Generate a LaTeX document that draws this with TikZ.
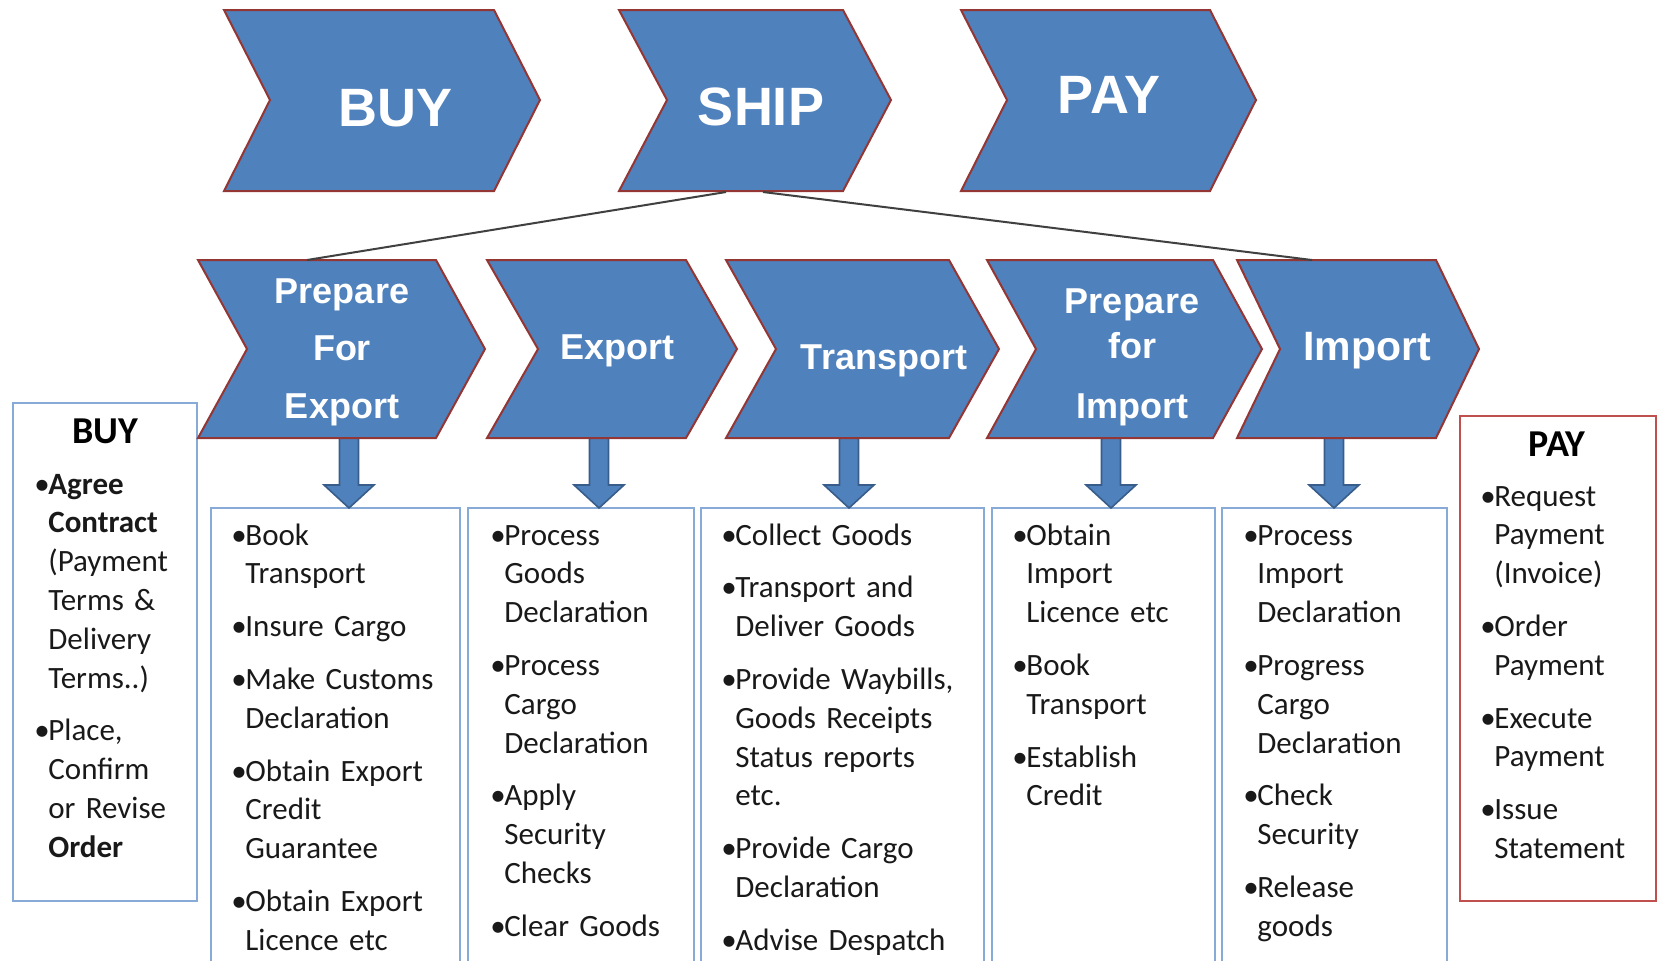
\documentclass[tikz,border=0pt]{standalone}
\usepackage{fontspec}
\setmainfont{Carlito}
\newfontfamily\chevfont{Liberation Sans}
\usetikzlibrary{calc}

\definecolor{chevblue}{RGB}{79,129,189}
\definecolor{chevedge}{RGB}{148,54,52}
\definecolor{arrowedge}{RGB}{56,93,138}
\definecolor{boxblue}{RGB}{135,170,215}
\definecolor{payred}{RGB}{192,80,77}

\newcommand{\bul}{\makebox[7pt][l]{\textbullet}}
\newcommand{\ind}{\hspace*{7pt}}

\tikzset{
    chevron/.style={fill=chevblue, draw=chevedge, line width=1pt, line join=miter},
    toplabel/.style={text=white, inner sep=0, anchor=base,
        font=\chevfont\bfseries\fontsize{27}{30}\selectfont},
    steplabel/.style={text=white, inner sep=0, anchor=base, align=center, text width=110pt,
        font=\chevfont\bfseries\fontsize{18}{28.75}\selectfont},
    bigarrow/.style={fill=chevblue, draw=arrowedge, line width=0.8pt},
    listbox/.style={draw=boxblue, line width=1.2pt},
    paybox/.style={draw=payred, line width=1.2pt},
    listtext/.style={inner sep=0, anchor=base west, align=left, text width=140pt,
        text=black!90, font=\fontsize{15.5}{19.4}\selectfont},
    listhead/.style={inner sep=0, anchor=base, text=black,
        font=\bfseries\fontsize{19}{22}\selectfont},
    link/.style={draw=black!75, line width=1pt},
}

\begin{document}
\begin{tikzpicture}[x=0.5pt, y=-0.5pt]
  \clip (0,0) rectangle (1659,960);

  %% Side boxes
  \draw[listbox] (13,403) rectangle (197,901);
  \draw[paybox] (1460,416) rectangle (1656,901);

  %% Step boxes and their arrows
  \foreach \nm/\bl/\br/\ax in {pfe/211/460/349,
                               exp/468/694/599,
                               trn/701/984/849,
                               pfi/992/1215/1111,
                               imp/1222/1447/1334
                              }{
    \draw[listbox] (\bl,508) rectangle (\br,966);
    \coordinate (\nm-out) at (\ax,438);
    \coordinate (\nm-in) at (\ax,508);
    \draw[bigarrow] (\nm-out) ++(-9.5,0) -- ++(0,47) -- ++(-15.5,0) -- (\nm-in)
        -- ++(25,-23) -- ++(-15.5,0) -- ++(0,-47) -- cycle;
  }

  %% Top chevrons
  \foreach \xl/\xr/\d in {224/494/46, 619/843/48, 961/1210/46}{
    \draw[chevron] (\xl,10) -- (\xr,10) -- ({\xr+\d},100) -- (\xr,191)
        -- (\xl,191) -- ({\xl+\d},100) -- cycle;
  }

  %% Step chevrons
  \foreach \xl/\xr/\d in {198/436/49, 487/686/51, 726/949/50, 987/1213/49, 1237/1436/43}{
    \draw[chevron] (\xl,260) -- (\xr,260) -- ({\xr+\d},349) -- (\xr,438)
        -- (\xl,438) -- ({\xl+\d},349) -- cycle;
  }

  \node[toplabel] (buy) at (396,126) {BUY};
  \node[toplabel] (ship) at (761,125) {SHIP};
  \node[toplabel] (pay) at (1109,113) {PAY};

  \node[steplabel] (pfe) at (342,303) {Prepare\\For\\Export};
  \node[steplabel] (exp) at (617,359) {Export};
  \node[steplabel] (trn) at (884,369) {Transport};
  \node[steplabel, font=\chevfont\bfseries\fontsize{18}{22.5}\selectfont]
      (pfi) at (1132,313) {Prepare\\for\\[7.5pt]Import};
  \node[steplabel, font=\chevfont\bfseries\fontsize{20.5}{24}\selectfont]
      (imp) at (1367,360) {Import};

  %% SHIP splits into the steps
  \coordinate (ship-l) at (726,192);
  \coordinate (ship-r) at (763,192);
  \coordinate (pfe-top) at (307,260);
  \coordinate (imp-top) at (1312,260);
  \draw[link] (ship-l) -- (pfe-top);
  \draw[link] (ship-r) -- (imp-top);

  %% Lists
  \node[listhead] (buyhead) at (105,443) {BUY};
  \node[listtext] (buylist) at (34,494) {\bul\textbf{Agree}\\ \ind\textbf{Contract}\\
      \ind(Payment\\ \ind Terms \&\\ \ind Delivery\\ \ind Terms..)\\[7pt]
      \bul Place,\\ \ind Confirm\\ \ind or Revise\\ \ind\textbf{Order}};

  \node[listtext] (pfelist) at (231,545) {\bul Book\\ \ind Transport\\[7pt]
      \bul Insure Cargo\\[7pt]
      \bul Make Customs\\ \ind Declaration\\[7pt]
      \bul Obtain Export\\ \ind Credit\\ \ind Guarantee\\[7pt]
      \bul Obtain Export\\ \ind Licence etc};

  \node[listtext] (explist) at (490,545) {\bul Process\\ \ind Goods\\ \ind Declaration\\[7pt]
      \bul Process\\ \ind Cargo\\ \ind Declaration\\[7pt]
      \bul Apply\\ \ind Security\\ \ind Checks\\[7pt]
      \bul Clear Goods};

  \node[listtext] (trnlist) at (721,545) {\bul Collect Goods\\[7pt]
      \bul Transport and\\ \ind Deliver Goods\\[7pt]
      \bul Provide Waybills,\\ \ind Goods Receipts\\ \ind Status reports\\ \ind etc.\\[7pt]
      \bul Provide Cargo\\ \ind Declaration\\[7pt]
      \bul Advise Despatch};

  \node[listtext] (pfilist) at (1012,545) {\bul Obtain\\ \ind Import\\ \ind Licence etc\\[7pt]
      \bul Book\\ \ind Transport\\[7pt]
      \bul Establish\\ \ind Credit};

  \node[listtext] (implist) at (1243,545) {\bul Process\\ \ind Import\\ \ind Declaration\\[7pt]
      \bul Progress\\ \ind Cargo\\ \ind Declaration\\[7pt]
      \bul Check\\ \ind Security\\[7pt]
      \bul Release\\ \ind goods};

  \node[listhead] (payhead) at (1557,456) {PAY};
  \node[listtext] (paylist) at (1480,506) {\bul Request\\ \ind Payment\\ \ind(Invoice)\\[7pt]
      \bul Order\\ \ind Payment\\[7pt]
      \bul Execute\\ \ind Payment\\[7pt]
      \bul Issue\\ \ind Statement};
\end{tikzpicture}
\end{document}
